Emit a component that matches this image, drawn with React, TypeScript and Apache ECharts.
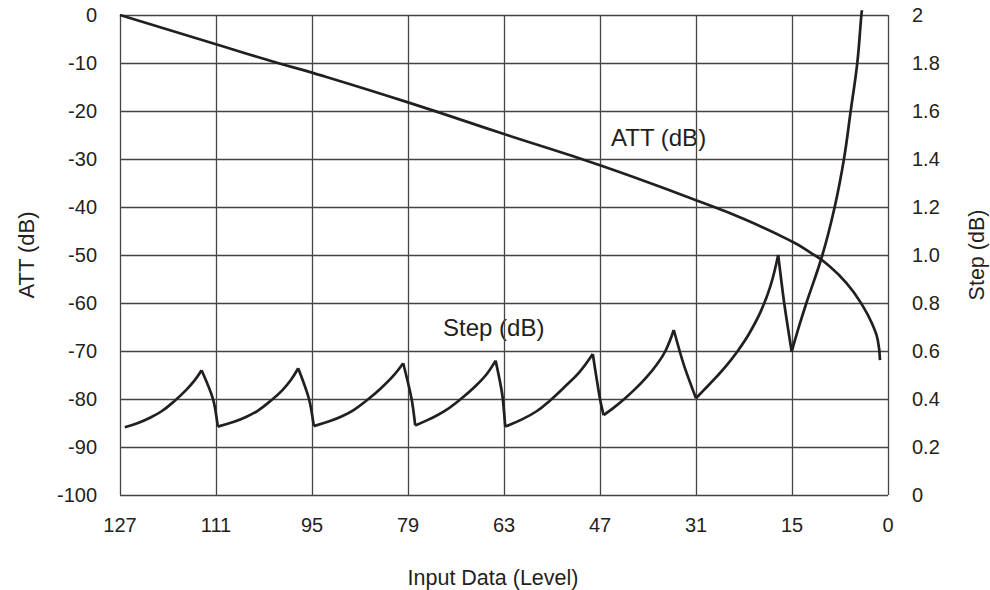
import React, { useEffect, useRef } from "react";
import * as echarts from "echarts";

// x tick labels (8 equal divisions; last division spans 15 levels)
const xTickLabels = ["127", "111", "95", "79", "63", "47", "31", "15", "0"];
const rightTickLabels = ["0", "0.2", "0.4", "0.6", "0.8", "1.0", "1.2", "1.4", "1.6", "1.8", "2"];

// ATT (dB) curve
const attLevels = [127, 111, 100.7, 95, 79, 63, 47, 31, 23, 15, 12, 9.7, 6.45, 3.86, 2.3, 1.6, 1.25];
const attValues = [0, -6.1, -10, -12.0, -18.2, -24.8, -31.3, -38.6, -42.5, -47.2, -49.6, -51.7, -55.9, -60.8, -64.9, -67.7, -71.9];

// Step (dB) curve
const stepLevels = [
  126.2, 124, 122, 120, 118, 116, 114.5, 113.4, 111.5, 110.7,
  108, 106, 104, 102, 100, 98.5, 97.3, 95.5, 94.7,
  92, 90, 88, 85.6, 83.5, 81.5, 79.8, 78.4, 77.8,
  75.5, 73, 70.2, 68, 66, 64.4, 63.3, 62.8,
  60, 57.5, 55.5, 53, 50.5, 48.2, 47.0, 46.4,
  44.8, 43.2, 41.2, 39.2, 37.5, 36.1, 34.7, 33.0, 31.0,
  29.2, 27.6, 25.9, 24.2, 22.2, 20.2, 18.6, 17.3, 16.3, 15.05,
  14.0, 12.75, 10.25, 8.33, 6.88, 5.83, 4.8, 4.16, 4.06,
];
const stepValues = [
  0.282, 0.3, 0.322, 0.35, 0.39, 0.437, 0.48, 0.52, 0.4, 0.285,
  0.305, 0.325, 0.352, 0.39, 0.435, 0.48, 0.528, 0.4, 0.287,
  0.308, 0.328, 0.355, 0.4, 0.445, 0.495, 0.549, 0.4, 0.29,
  0.315, 0.348, 0.4, 0.448, 0.5, 0.56, 0.42, 0.285,
  0.315, 0.35, 0.39, 0.448, 0.51, 0.5875, 0.4, 0.333,
  0.362, 0.395, 0.44, 0.492, 0.545, 0.6, 0.6875, 0.54, 0.403,
  0.45, 0.492, 0.54, 0.595, 0.67, 0.765, 0.87, 1.0, 0.8, 0.597,
  0.694, 0.8, 1.0, 1.2, 1.4, 1.6, 1.8, 2.0, 2.02,
];

const toPos = (lv: number) => (lv >= 15 ? (127 - lv) / 16 : 7 + (15 - lv) / 15);

// split the step curve into rising arcs and falling edges so each can be smoothed separately
function splitRuns() {
  const rising: any[] = [];
  const falling: any[] = [];
  let dir = 0;
  let run: number[][] = [];
  const flush = () => {
    if (run.length > 1) {
      const target = dir > 0 ? rising : falling;
      if (target.length) target.push(null);
      run.forEach((p) => target.push(p));
    }
  };
  for (let i = 0; i < stepLevels.length; i++) {
    const p = [toPos(stepLevels[i]), stepValues[i]];
    if (i === 0) {
      run = [p];
      continue;
    }
    const d = stepValues[i] > stepValues[i - 1] ? 1 : -1;
    if (dir === 0) dir = d;
    if (d !== dir) {
      flush();
      run = [run[run.length - 1], p];
      dir = d;
    } else {
      run.push(p);
    }
  }
  flush();
  return { rising, falling };
}

const INK = "#231f20";
const GRID = "#454545";
const FONT = "Liberation Sans";

export default function App() {
  const ref = useRef<HTMLDivElement>(null);
  useEffect(() => {
    document.body.style.margin = "0";
    const chart = echarts.init(ref.current!, null, { renderer: "svg" });
    const { rising, falling } = splitRuns();
    const stepStyle = { color: INK, width: 2.7, join: "miter" as const };
    chart.setOption({
      animation: false,
      backgroundColor: "#ffffff",
      grid: { left: 120, right: 102, top: 15, bottom: 95, containLabel: false },
      xAxis: {
        type: "value",
        min: 0,
        max: 8,
        interval: 1,
        axisLine: { show: false },
        axisTick: { show: false },
        splitLine: { show: true, lineStyle: { color: GRID, width: 1.3 } },
        axisLabel: {
          margin: 20,
          color: INK,
          fontSize: 20,
          fontFamily: FONT,
          formatter: (v: number) => xTickLabels[Math.round(v)] ?? "",
        },
      },
      yAxis: [
        {
          type: "value",
          min: -100,
          max: 0,
          interval: 10,
          axisLine: { show: false },
          axisTick: { show: false },
          splitLine: { show: true, lineStyle: { color: GRID, width: 1.3 } },
          axisLabel: { margin: 23, color: INK, fontSize: 20, fontFamily: FONT },
        },
        {
          type: "value",
          min: 0,
          max: 2,
          interval: 0.2,
          position: "right",
          axisLine: { show: false },
          axisTick: { show: false },
          splitLine: { show: false },
          axisLabel: {
            margin: 24,
            color: INK,
            fontSize: 20,
            fontFamily: FONT,
            formatter: (v: number) => rightTickLabels[Math.round(v / 0.2)] ?? "",
          },
        },
      ],
      series: [
        {
          type: "line",
          name: "ATT (dB)",
          yAxisIndex: 0,
          data: attLevels.map((lv, i) => [toPos(lv), attValues[i]]),
          smooth: 0.5,
          showSymbol: false,
          lineStyle: { color: INK, width: 2.7 },
        },
        {
          type: "line",
          name: "Step (dB)",
          yAxisIndex: 1,
          clip: false,
          data: rising,
          smooth: 0.4,
          connectNulls: false,
          showSymbol: false,
          lineStyle: stepStyle,
        },
        {
          type: "line",
          name: "Step (dB) falling",
          yAxisIndex: 1,
          clip: false,
          data: falling,
          smooth: 0.3,
          connectNulls: false,
          showSymbol: false,
          lineStyle: stepStyle,
        },
      ],
      graphic: [
        {
          type: "text",
          x: 611,
          y: 137,
          style: { text: "ATT (dB)", fill: INK, fontSize: 24, fontFamily: FONT, textVerticalAlign: "middle" },
        },
        {
          type: "text",
          x: 443,
          y: 327,
          style: { text: "Step (dB)", fill: INK, fontSize: 24, fontFamily: FONT, textVerticalAlign: "middle" },
        },
        {
          type: "text",
          x: 26,
          y: 255,
          rotation: Math.PI / 2,
          style: { text: "ATT (dB)", fill: INK, fontSize: 22, fontFamily: FONT, textAlign: "center", textVerticalAlign: "middle" },
        },
        {
          type: "text",
          x: 977,
          y: 255,
          rotation: Math.PI / 2,
          style: { text: "Step (dB)", fill: INK, fontSize: 21.5, fontFamily: FONT, textAlign: "center", textVerticalAlign: "middle" },
        },
        {
          type: "text",
          x: 493,
          y: 578,
          style: { text: "Input Data (Level)", fill: INK, fontSize: 21.5, fontFamily: FONT, textAlign: "center", textVerticalAlign: "middle" },
        },
      ],
    });
    return () => chart.dispose();
  }, []);
  return <div ref={ref} style={{ width: 990, height: 590 }} />;
}
